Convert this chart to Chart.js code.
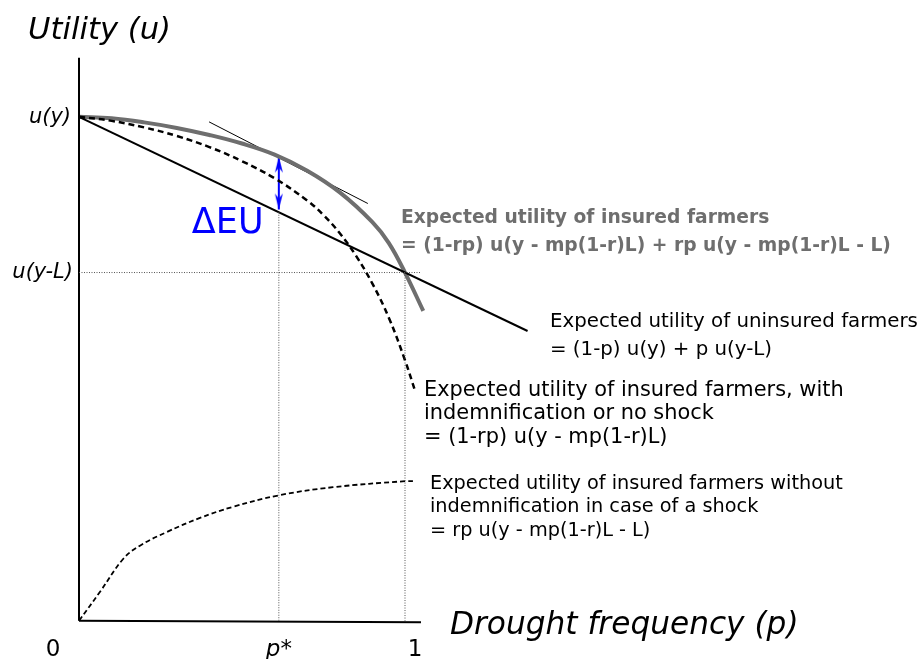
<!DOCTYPE html>
<html><head><meta charset="utf-8">
<script src="https://cdn.jsdelivr.net/npm/chart.js@4"></script>
<style>html,body{margin:0;padding:0;background:#fff}#wrap{width:921px;height:659px;position:relative}</style>
</head><body><div id="wrap"><canvas id="c" width="921" height="659"></canvas></div>
<script>
// ---- data (x = drought frequency p, y = utility with u(y)=1) ----
const uY = 1.0;          // u(y)
const uYL = 0.691;       // u(y-L)
const pStar = 0.613;     // p*
const axisX = [0, 1.049];
const axisXY = [0, -0.003];
const axisYX = [0, 0];
const axisYY = [0, 1.117];
const uninsuredX = [0, 1.376];
const uninsuredY = [1.0, 0.575];
const insuredX = [0, 0.1, 0.2, 0.3, 0.4, 0.5, 0.6, 0.7, 0.8, 0.9, 0.95, 1.0, 1.056];
const insuredY = [1.0, 0.997, 0.989, 0.978, 0.964, 0.947, 0.925, 0.893, 0.850, 0.791, 0.750, 0.691, 0.615];
const indemnX = [0, 0.1, 0.2, 0.3, 0.4, 0.5, 0.6, 0.7, 0.75, 0.8, 0.85, 0.9, 0.95, 1.0, 1.031];
const indemnY = [1.0, 0.992, 0.979, 0.962, 0.940, 0.912, 0.878, 0.834, 0.805, 0.769, 0.724, 0.669, 0.602, 0.517, 0.456];
const shockX = [0, 0.064, 0.136, 0.187, 0.269, 0.371, 0.472, 0.614, 0.779, 1.0, 1.031];
const shockY = [0, 0.057, 0.123, 0.149, 0.176, 0.204, 0.226, 0.249, 0.265, 0.277, 0.277];
const tangentX = [0.399, 0.886];
const tangentY = [0.990, 0.828];
const deltaEUY = [0.921, 0.816];
const xTickLabels = ['0', 'p*', '1'];
const yTickLabels = ['u(y)', 'u(y-L)'];
const titleY = 'Utility (u)';
const titleX = 'Drought frequency (p)';
const deltaLabel = 'ΔEU';
const noteInsured = ['Expected utility of insured farmers', '= (1-rp) u(y - mp(1-r)L) + rp u(y - mp(1-r)L - L)'];
const noteUninsured = ['Expected utility of uninsured farmers', '= (1-p) u(y) + p u(y-L)'];
const noteIndemn = ['Expected utility of insured farmers, with', 'indemnification or no shock', '= (1-rp) u(y - mp(1-r)L)'];
const noteShock = ['Expected utility of insured farmers without', 'indemnification in case of a shock', '= rp u(y - mp(1-r)L - L)'];

const pts = (xs, ys) => xs.map((x, i) => ({x, y: ys[i]}));

// arrowhead image for point style
function arrowHead() {
  const c = document.createElement('canvas');
  c.width = 12; c.height = 36;
  const g = c.getContext('2d');
  g.fillStyle = '#0000ff';
  g.beginPath();
  g.moveTo(6, 18); g.lineTo(10, 34); g.lineTo(6, 29); g.lineTo(2, 34); g.closePath();
  g.fill();
  return c;
}
const head = arrowHead();

const FONT = '"DejaVu Sans", sans-serif';
const textPlugin = {
  id: 'texts',
  afterDraw(chart) {
    const ctx = chart.ctx, xs = chart.scales.x, ys = chart.scales.y;
    const X = v => xs.getPixelForValue(v), Y = v => ys.getPixelForValue(v);
    function t(str, px, py, font, color, align, base) {
      ctx.save(); ctx.font = font; ctx.fillStyle = color || '#000';
      ctx.textAlign = align || 'left'; ctx.textBaseline = base || 'alphabetic';
      ctx.fillText(str, px, py); ctx.restore();
    }
    // axis titles
    t(titleY, X(0) - 51, Y(uY) - 78, 'italic 30.6px ' + FONT);
    t(titleX, X(1) + 45, Y(0) + 13, 'italic 31.2px ' + FONT);
    // x tick labels
    t(xTickLabels[0], X(0) - 26, Y(0) + 35, '23px ' + FONT, '#000', 'center');
    t(xTickLabels[1], X(pStar), Y(0) + 35, 'italic 23px ' + FONT, '#000', 'center');
    t(xTickLabels[2], X(1) + 10, Y(0) + 35, '23px ' + FONT, '#000', 'center');
    // y tick labels
    t(yTickLabels[0], X(0) - 8, Y(uY) + 1, 'italic 21px ' + FONT, '#000', 'right', 'middle');
    t(yTickLabels[1], X(0) - 6, Y(uYL), 'italic 21px ' + FONT, '#000', 'right', 'middle');
    // delta EU
    t(deltaLabel, X(pStar) - 87, Y(0.816) + 23, '35px ' + FONT, '#0000ff');
    // notes
    const lines = (arr, px, py0, dy, font, color) => arr.forEach((s, i) => t(s, px, py0 + i * dy, font, color));
    lines(noteInsured, X(1) - 4, Y(uYL) - 50, 28, 'bold 18.7px ' + FONT, '#6e6e6e');
    lines(noteUninsured, X(1) + 145, Y(uYL) + 54, 28, '19.8px ' + FONT, '#000');
    lines(noteIndemn, X(1) + 19, Y(uYL) + 123, 23.7, '20.9px ' + FONT, '#000');
    lines(noteShock, X(1) + 25, Y(uYL) + 216, 23.7, '19.3px ' + FONT, '#000');
  }
};

const dotted = {borderColor: '#555', borderWidth: 1, borderDash: [1, 1.5], pointRadius: 0, tension: 0};
const smooth = 0.4;

new Chart(document.getElementById('c'), {
  type: 'line',
  data: {
    datasets: [
      Object.assign({data: pts([pStar, pStar], [uninsuredY[0] + (uninsuredY[1] - uninsuredY[0]) * pStar / uninsuredX[1], 0])}, dotted),
      Object.assign({data: pts([1, 1], [uYL, 0])}, dotted),
      Object.assign({data: pts([0, axisX[1]], [uYL, uYL])}, dotted),
      {data: pts(axisX, axisXY), borderColor: '#000', borderWidth: 2, pointRadius: 0},
      {data: pts(axisYX, axisYY), borderColor: '#000', borderWidth: 2, pointRadius: 0},
      {data: pts(shockX, shockY), borderColor: '#000', borderWidth: 1.8, borderDash: [5, 3], pointRadius: 0, tension: smooth},
      {data: pts(uninsuredX, uninsuredY), borderColor: '#000', borderWidth: 2, pointRadius: 0},
      {data: pts(indemnX, indemnY), borderColor: '#000', borderWidth: 2.5, borderDash: [6, 4], pointRadius: 0, tension: smooth},
      {data: pts(insuredX, insuredY), borderColor: '#6e6e6e', borderWidth: 4, pointRadius: 0, tension: smooth},
      {data: pts(tangentX, tangentY), borderColor: '#000', borderWidth: 1, pointRadius: 0},
      {data: pts([pStar, pStar], deltaEUY), borderColor: '#0000ff', borderWidth: 2, pointStyle: head, pointRadius: 6, pointRotation: [0, 180]}
    ]
  },
  options: {
    responsive: false,
    animation: false,
    events: [],
    layout: {padding: {left: 46.4, right: 353, top: 36.2, bottom: 6.7}},
    plugins: {legend: {display: false}, tooltip: {enabled: false}},
    scales: {
      x: {type: 'linear', min: -0.1, max: 1.5, display: false},
      y: {type: 'linear', min: -0.06, max: 1.16, display: false}
    }
  },
  plugins: [textPlugin]
});
</script></body></html>
